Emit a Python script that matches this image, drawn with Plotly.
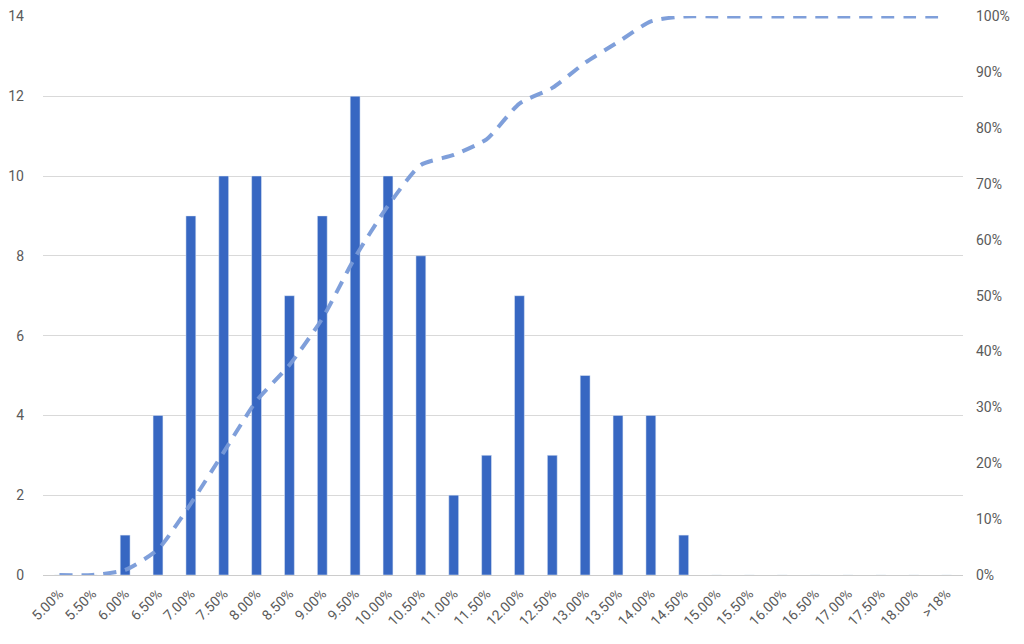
import plotly.graph_objects as go

categories = ["5.00%", "5.50%", "6.00%", "6.50%", "7.00%", "7.50%", "8.00%", "8.50%",
              "9.00%", "9.50%", "10.00%", "10.50%", "11.00%", "11.50%", "12.00%", "12.50%",
              "13.00%", "13.50%", "14.00%", "14.50%", "15.00%", "15.50%", "16.00%", "16.50%",
              "17.00%", "17.50%", "18.00%", ">18%"]
frequency = [0, 0, 1, 4, 9, 10, 10, 7, 9, 12, 10, 8, 2, 3, 7, 3, 5, 4, 4, 1,
             0, 0, 0, 0, 0, 0, 0, 0]
cumulative = [0.0, 0.0, 0.009, 0.046, 0.128, 0.220, 0.312, 0.376, 0.459, 0.569, 0.661,
              0.734, 0.752, 0.780, 0.844, 0.872, 0.917, 0.954, 0.991, 1.0,
              1.0, 1.0, 1.0, 1.0, 1.0, 1.0, 1.0, 1.0]

left_ticks = [0, 2, 4, 6, 8, 10, 12, 14]
right_ticks = [0, 0.1, 0.2, 0.3, 0.4, 0.5, 0.6, 0.7, 0.8, 0.9, 1.0]

fig = go.Figure()
fig.add_trace(go.Bar(x=categories, y=frequency, marker=dict(color="#3767c2"),
                     width=0.3, name="Frequency"))
fig.add_trace(go.Scatter(x=categories, y=cumulative, yaxis="y2", mode="lines",
                         line=dict(color="rgba(120,154,216,0.95)", width=4, dash="13px,9px",
                                   shape="spline", smoothing=0.6),
                         name="Cumulative %"))

font = dict(family="Roboto", size=14, color="#5a5a5a")
fig.update_layout(
    width=1016, height=636,
    margin=dict(l=35, r=61, t=8, b=69),
    plot_bgcolor="white", paper_bgcolor="white",
    showlegend=False,
    font=font,
    xaxis=dict(type="category", tickangle=-45, tickfont=font, showgrid=False,
               showline=True, linecolor="#cccccc", ticks="", range=[-0.5, 27.5],
               automargin=False, ticklabelstandoff=4, ticklabeloverflow="allow"),
    yaxis=dict(range=[0, 14.01], tickvals=left_ticks, showgrid=True, gridcolor="#d9d9d9",
               gridwidth=1, zeroline=False, tickfont=font, ticks="", ticklen=0,
               ticklabelstandoff=18, automargin=False, ticklabeloverflow="allow"),
    yaxis2=dict(range=[0, 1.0007], overlaying="y", side="right", tickvals=right_ticks,
                tickformat=".0%", showgrid=False, zeroline=False, tickfont=font,
                ticklabelstandoff=12, automargin=False, ticklabeloverflow="allow"),
)
fig.write_html("out.html")
